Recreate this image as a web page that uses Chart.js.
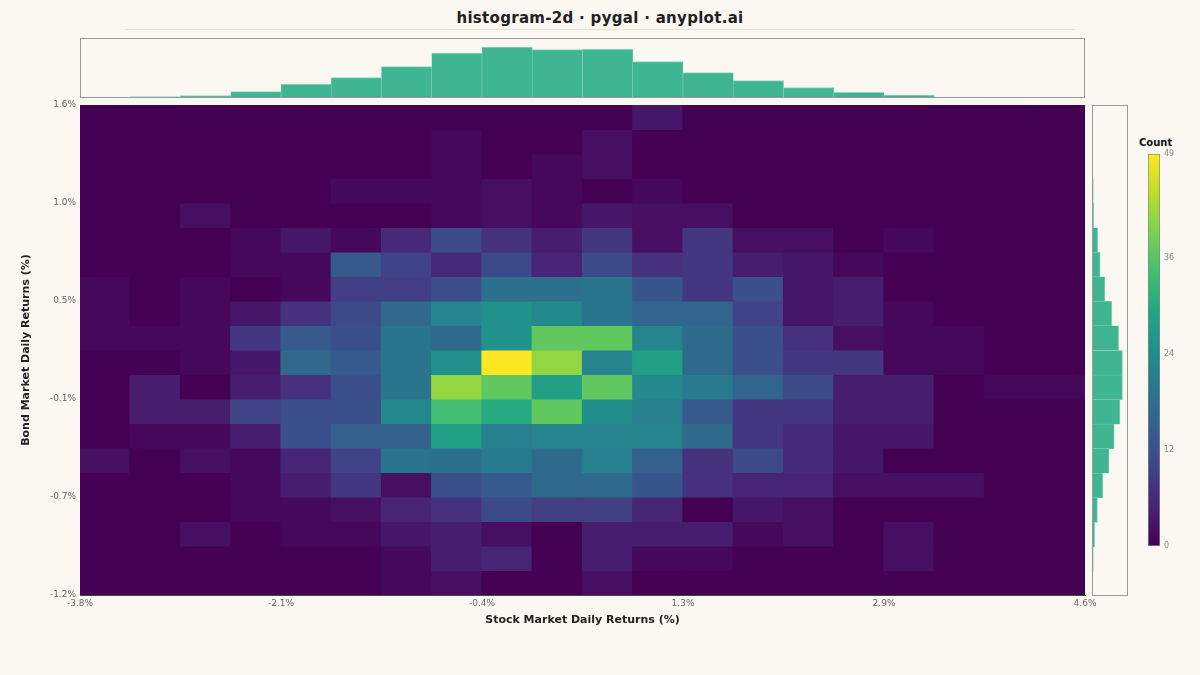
<!DOCTYPE html>
<html><head><meta charset="utf-8">
<script src="https://cdn.jsdelivr.net/npm/chart.js@4.4.1/dist/chart.umd.min.js"></script>
<style>
body{margin:0;background:#faf8f1;width:1200px;height:675px;position:relative;overflow:hidden;font-family:"DejaVu Sans",sans-serif}
canvas{position:absolute}
#title{position:absolute;top:9px;left:0;width:1200px;text-align:center;font-weight:bold;font-size:15px;color:#222;letter-spacing:0.3px}
#rule{position:absolute;top:29px;left:125px;width:950px;height:1px;background:#e6e2d8}
#clab{position:absolute;top:137px;left:1139px;font-weight:bold;font-size:10px;color:#111}
</style></head><body>
<div id="title">histogram-2d · pygal · anyplot.ai</div>
<div id="rule"></div>
<div id="clab">Count</div>
<canvas id="top" style="left:80px;top:38px;width:1005px;height:60px"></canvas>
<canvas id="main" style="left:0px;top:95px;width:1100px;height:536px"></canvas>
<canvas id="right" style="left:1092px;top:105px;width:36px;height:491px"></canvas>
<canvas id="cbar" style="left:1120px;top:130px;width:80px;height:430px"></canvas>
<script>
// Tick labels
const xTickLabels = ["-3.8%","-2.1%","-0.4%","1.3%","2.9%","4.6%"];
const yTickLabels = ["-1.2%","-0.7%","-0.1%","0.5%","1.0%","1.6%"];
// 2D counts, row 0 = top (highest bond return), 20 columns (stock return bins)
const countsTopRow0 = [
[0,0,0,0,0,0,0,0,0,0, 0,3,0,0,0,0,0,0,0,0],
[0,0,0,0,0,0,0,1,0,0, 2,0,0,0,0,0,0,0,0,0],
[0,0,0,0,0,0,0,1,0,1, 2,0,0,0,0,0,0,0,0,0],
[0,0,0,0,0,1,1,1,2,1, 0,1,0,0,0,0,0,0,0,0],
[0,0,2,0,0,0,0,1,2,1, 3,2,2,0,0,0,0,0,0,0],
[0,0,0,1,3,1,6,11,7,4, 8,2,8,2,2,0,1,0,0,0],
[0,0,0,1,1,14,10,6,11,5, 11,7,8,4,3,1,0,0,0,0],
[1,0,1,0,1,9,9,12,18,18, 19,13,8,12,3,4,0,0,0,0],
[1,0,1,3,7,11,17,22,25,23, 19,16,16,10,3,4,1,0,0,0],
[1,1,1,8,14,12,19,17,25,37, 37,22,17,12,7,2,1,1,0,0],
[0,0,1,3,17,14,19,25,49,41, 22,28,17,12,8,8,1,1,0,0],
[0,4,0,4,7,12,19,41,37,28, 37,23,20,16,11,4,4,0,1,1],
[0,4,4,10,12,12,23,34,30,37, 24,21,14,8,8,4,4,0,0,0],
[0,1,1,4,12,15,15,28,21,22, 22,22,17,8,6,3,3,0,0,0],
[2,0,2,1,5,10,19,18,20,17, 21,15,7,11,6,3,0,0,0,0],
[0,0,0,1,4,8,2,12,14,17, 17,13,7,5,5,2,2,2,0,0],
[0,0,0,1,1,2,5,7,11,9, 9,5,0,3,2,0,0,0,0,0],
[0,0,2,0,1,1,3,4,2,0, 4,4,4,1,2,0,2,0,0,0],
[0,0,0,0,0,0,1,4,5,0, 4,1,1,0,0,0,2,0,0,0],
[0,0,0,0,0,0,1,2,0,0, 2,0,0,0,0,0,0,0,0,0]
];
// Marginal histograms (relative bar heights)
const xMarginal = [3,4,7,19,42,61,94,135,153,145,147,109,76,52,31,17,9,3,0,0];
const yMarginalTopRow0 = [0,0,1,4,5,17,24,38,58,78,89,89,82,65,50,32,16,8,4,0];
const cbarTicks = [0,12,24,36,49];
const vmax = 49;

const vir = [[68,1,84],[72,35,116],[64,67,135],[52,94,141],[41,120,142],[32,144,140],[34,167,132],[68,190,112],[121,209,81],[189,222,38],[253,231,37]];
function viridis(t){t=Math.max(0,Math.min(1,t));const p=t*(vir.length-1);const i=Math.min(vir.length-2,Math.floor(p));const f=p-i;
 const c=vir[i].map((v,k)=>Math.round(v+(vir[i+1][k]-v)*f));return `rgb(${c[0]},${c[1]},${c[2]})`;}

Chart.defaults.font.family='"DejaVu Sans", sans-serif';
Chart.defaults.animation=false;
const green='#3fb591';

const datasets = countsTopRow0.map((row,ri)=>{const r=19-ri;return {
  data: row.map((v,c)=>({x:c+0.5,y:[r,r+1]})),
  backgroundColor: row.map(v=>viridis(v/vmax)),
  borderWidth:0, inflateAmount:0.6, barPercentage:1, categoryPercentage:1, grouped:false
};});
const tickPos=[0,4,8,12,16,20];
new Chart(document.getElementById('main'),{type:'bar',data:{datasets},
 options:{responsive:false,devicePixelRatio:1,maintainAspectRatio:false,
  layout:{padding:{top:10,right:15,left:0,bottom:0}},
  plugins:{legend:{display:false},tooltip:{enabled:false}},
  scales:{
   x:{type:'linear',min:0,max:20,offset:false,grid:{display:false,drawTicks:false,tickLength:0},border:{color:'#444'},
      afterBuildTicks:s=>{s.ticks=tickPos.map(v=>({value:v}))},
      afterFit:s=>{s.height=36;s.paddingRight=0;s.paddingLeft=0},
      ticks:{color:'#666',font:{size:9},maxRotation:0,padding:3,callback:(v)=>xTickLabels[tickPos.indexOf(v)]},
      title:{display:true,text:'Stock Market Daily Returns (%)',font:{size:11,weight:'bold'},color:'#222',padding:{top:4}}},
   y:{type:'linear',min:0,max:20,grid:{display:false,drawTicks:false,tickLength:0},border:{color:'#444'},
      afterBuildTicks:s=>{s.ticks=tickPos.map(v=>({value:v}))},
      afterFit:s=>{s.width=80},
      ticks:{color:'#666',font:{size:9},padding:4,callback:(v)=>yTickLabels[tickPos.indexOf(v)]},
      title:{display:true,text:'Bond Market Daily Returns (%)',font:{size:11,weight:'bold'},color:'#222',padding:{top:20,bottom:0}}}
  }}});

const boxPlugin={id:'box',afterDraw(c){const a=c.chartArea,x=c.ctx;x.save();x.strokeStyle='#999';x.lineWidth=1;x.strokeRect(a.left+0.5,a.top+0.5,a.width-1,a.height-1);x.restore();}};
new Chart(document.getElementById('top'),{type:'bar',
 data:{labels:xMarginal.map((_,i)=>i),datasets:[{data:xMarginal,backgroundColor:green,borderColor:'#8fd6bd',borderWidth:{top:1,left:0.5,right:0.5,bottom:0},barPercentage:1,categoryPercentage:1}]},
 options:{responsive:false,devicePixelRatio:1,plugins:{legend:{display:false},tooltip:{enabled:false}},
  scales:{x:{display:false},y:{display:false,min:0,max:180}}},plugins:[boxPlugin]});
new Chart(document.getElementById('right'),{type:'bar',
 data:{labels:yMarginalTopRow0.map((_,i)=>i),datasets:[{data:yMarginalTopRow0,backgroundColor:green,borderColor:'#8fd6bd',borderWidth:{top:0.5,bottom:0.5,right:1,left:0},barPercentage:1,categoryPercentage:1}]},
 options:{indexAxis:'y',responsive:false,devicePixelRatio:1,plugins:{legend:{display:false},tooltip:{enabled:false}},
  scales:{y:{display:false},x:{display:false,min:0,max:105}}},plugins:[boxPlugin]});
new Chart(document.getElementById('cbar'),{type:'bar',
 data:{labels:['c'],datasets:[{data:[[0,vmax]],borderColor:'#888',borderWidth:1,borderSkipped:false,barPercentage:1,categoryPercentage:1,
  backgroundColor:(ctx)=>{const ch=ctx.chart,a=ch.chartArea;if(!a)return '#440154';const g=ch.ctx.createLinearGradient(0,a.bottom,0,a.top);
   for(let i=0;i<=20;i++)g.addColorStop(i/20,viridis(i/20));return g;}}]},
 options:{responsive:false,devicePixelRatio:1,layout:{padding:{left:28,top:24,bottom:14,right:0}},
  plugins:{legend:{display:false},tooltip:{enabled:false}},
  scales:{x:{display:false},
   y:{position:'right',min:0,max:vmax,grid:{display:false,drawTicks:true,tickLength:3},border:{display:false},
      afterBuildTicks:s=>{s.ticks=cbarTicks.map(v=>({value:v}))},
      afterFit:s=>{s.width=40},
      ticks:{color:'#888',font:{size:8},padding:1}}}}});
</script></body></html>
